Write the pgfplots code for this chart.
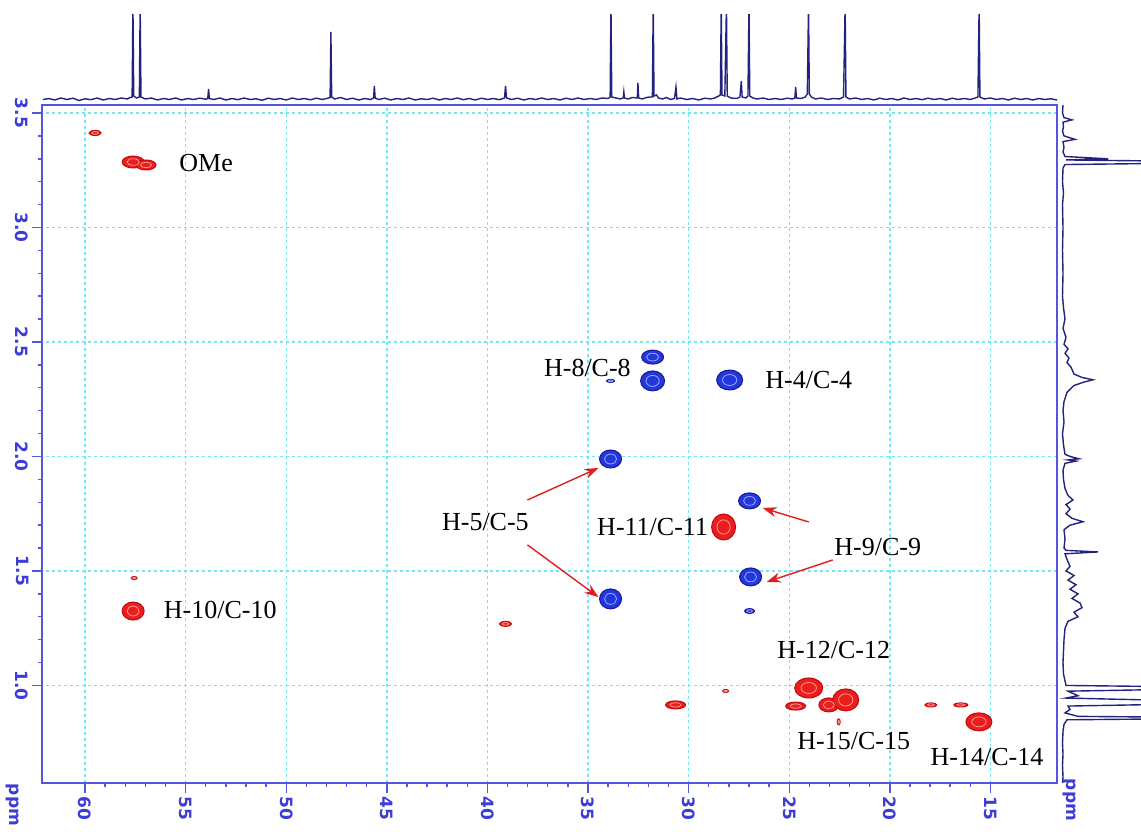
\documentclass[border=0pt]{standalone}
\usepackage{fontspec}
\setmainfont{Liberation Serif}
\newfontfamily\tickfont{DejaVu Sans}
\usepackage{pgfplots}
\usepackage{pgfplotstable}
\pgfplotsset{compat=1.18}
\usetikzlibrary{arrows.meta}

\definecolor{axisblue}{RGB}{85,85,225}
\definecolor{tickblue}{RGB}{60,60,215}
\definecolor{gridcyan}{RGB}{120,228,238}
\definecolor{specnavy}{RGB}{35,35,125}
\definecolor{pkred}{RGB}{235,30,30}
\definecolor{pkredd}{RGB}{195,10,10}
\definecolor{pkredl}{RGB}{255,150,150}
\definecolor{pkblue}{RGB}{35,55,220}
\definecolor{pkblued}{RGB}{25,25,150}
\definecolor{pkbluel}{RGB}{150,170,255}
\definecolor{arrred}{RGB}{225,30,30}

% cross peaks: ppm C, ppm H, half sizes (pt)
\pgfplotstableread{
x y w h
59.50 3.413 3 1.25
57.61 3.286 5.5 3
56.97 3.273 5 2.5
57.61 1.325 5.5 4.5
57.56 1.469 1.5 0.75
39.10 1.269 3 1.25
28.26 1.692 6 6.5
30.65 0.915 5 2
28.16 0.976 1.5 0.75
24.03 0.989 7 5
24.68 0.910 5 2
23.03 0.915 5 3.5
22.19 0.937 6.5 5.5
17.96 0.915 3 1
16.47 0.915 3.5 1
15.57 0.841 6.5 4.5
22.54 0.841 0.75 1.5
}\redpk

\pgfplotstableread{
x y w h
31.79 2.434 5.5 3.5
31.79 2.330 6 5
33.88 2.330 2 0.75
27.96 2.334 6.5 5
33.88 1.989 5.5 4.5
33.88 1.378 5.5 5
26.97 1.806 5.5 4
26.92 1.474 5.5 4.5
26.97 1.325 2.5 1.25
}\bluepk

\pgfplotsset{
  blobout/.style={only marks, scatter, mark=*, mark size=1pt,
    visualization depends on={\thisrow{w}\as\pkw},
    visualization depends on={\thisrow{h}\as\pkh},
    scatter/@pre marker code/.code={\scope[xscale=\pkw,yscale=\pkh]},
    scatter/@post marker code/.code={\endscope}},
  blobin/.style={only marks, scatter, mark=o, mark size=1pt,
    visualization depends on={\thisrow{w}\as\pkw},
    visualization depends on={\thisrow{h}\as\pkh},
    scatter/@pre marker code/.code={\scope[xscale=0.55*\pkw,yscale=0.55*\pkh]},
    scatter/@post marker code/.code={\endscope}},
}

\begin{document}
\begin{tikzpicture}

% main 2D panel
\begin{axis}[at={(21pt,24pt)}, anchor=south west,
  scale only axis, width=507.5pt, height=339pt,
  x dir=reverse, xmin=11.69, xmax=62.14, ymin=0.574, ymax=3.535,
  xtick={15,20,25,30,35,40,45,50,55,60},
  xticklabels={15,20,25,30,35,40,45,50,55,60},
  ytick={1,1.5,2,2.5,3,3.5},
  yticklabels={1.0,1.5,2.0,2.5,3.0,3.5},
  minor x tick num=4, minor y tick num=4,
  tick align=outside, tick pos=left,
  major tick length=5pt, minor tick length=2pt,
  axis line style={axisblue, line width=0.9pt},
  every tick/.style={axisblue, line width=0.7pt},
  grid=major, major grid style={gridcyan, dash pattern=on 1.5pt off 1.5pt, line width=0.7pt},
  tick label style={font=\tickfont\bfseries\fontsize{8.5}{10}\selectfont, text=tickblue},
  xticklabel style={rotate=-90, anchor=west, inner sep=1.5pt},
  yticklabel style={rotate=-90, anchor=north, inner sep=1.5pt},
]
\addplot[blobout, mark options={fill=pkred, draw=pkredd, line width=0.5pt}] table[x=x,y=y] {\redpk};
\addplot[blobin, mark options={draw=pkredl, line width=0.4pt}] table[x=x,y=y] {\redpk};
\addplot[blobout, mark options={fill=pkblue, draw=pkblued, line width=0.5pt}] table[x=x,y=y] {\bluepk};
\addplot[blobin, mark options={draw=pkbluel, line width=0.4pt}] table[x=x,y=y] {\bluepk};

\begin{scope}[every node/.style={font=\fontsize{13}{15}\selectfont, inner sep=0pt}]
\node at (axis cs:53.98,3.282) {OMe};
\node at (axis cs:35.03,2.386) {H-8/C-8};
\node at (axis cs:24.03,2.334) {H-4/C-4};
\node at (axis cs:40.10,1.714) {H-5/C-5};
\node at (axis cs:31.79,1.692) {H-11/C-11};
\node at (axis cs:20.60,1.605) {H-9/C-9};
\node at (axis cs:53.28,1.330) {H-10/C-10};
\node at (axis cs:22.79,1.155) {H-12/C-12};
\node at (axis cs:21.79,0.758) {H-15/C-15};
\node at (axis cs:15.17,0.688) {H-14/C-14};
\end{scope}

\begin{scope}[arrred, line width=0.7pt, -{Stealth[length=7pt,width=5pt]}]
\draw (axis cs:38.01,1.810) -- (axis cs:34.48,1.950);
\draw (axis cs:38.01,1.614) -- (axis cs:34.48,1.386);
\draw (axis cs:24.03,1.714) -- (axis cs:26.32,1.775);
\draw (axis cs:22.84,1.548) -- (axis cs:26.12,1.452);
\end{scope}
\end{axis}

% 13C projection on top
\begin{axis}[at={(21pt,363pt)}, anchor=south west, scale only axis,
  width=507.5pt, height=45pt, x dir=reverse, xmin=11.69, xmax=62.14,
  ymin=-5, ymax=85, hide axis, clip=true]
\addplot[specnavy, line width=0.7pt] coordinates {
(62.1,0.5)(61.8,1.5)(61.5,0)(61.2,2)(60.9,0.5)(60.6,1.8)(60.3,-0.5)(60.0,1.2)(59.7,0.3)(59.4,2)
(59.1,0)(58.8,1.5)(58.5,0.5)(58.2,2)(57.9,1)(57.75,2.5)(57.66,3)(57.62,95)(57.58,4)(57.45,2)
(57.30,3)(57.26,95)(57.22,3)(57.0,1)(56.7,2)(56.4,0)(56.1,1.5)(55.8,0.5)(55.5,2)(55.2,0)
(54.9,1.5)(54.6,0.5)(54.3,1.8)(54.0,0.8)(53.9,1.5)(53.86,11)(53.82,1.5)(53.6,0.5)(53.3,2)(53.0,0)
(52.7,1.5)(52.4,0.3)(52.1,2)(51.8,0.5)(51.5,1.2)(51.2,-0.3)(50.9,1.8)(50.6,0.5)(50.3,1.5)(50.0,0)
(49.7,2)(49.4,0.5)(49.1,1.5)(48.8,0.2)(48.5,1.8)(48.2,0.5)(47.9,2)(47.82,2.5)(47.78,68)(47.74,3)
(47.6,1)(47.3,2.5)(47.0,0.5)(46.7,1.8)(46.4,0)(46.1,1.5)(45.8,0.5)(45.66,2)(45.62,14)(45.58,2)
(45.4,0.5)(45.1,1.8)(44.8,0)(44.5,1.5)(44.2,0.5)(43.9,2)(43.6,0)(43.3,1.2)(43.0,0.5)(42.7,1.8)
(42.4,0)(42.1,1.5)(41.8,0.5)(41.5,2)(41.2,0.3)(40.9,1.5)(40.6,0)(40.3,1.8)(40.0,0.5)(39.7,1.5)
(39.4,0.3)(39.15,2)(39.10,14)(39.05,2)(38.8,0.5)(38.5,1.8)(38.2,0)(37.9,1.5)(37.6,0.5)(37.3,2)
(37.0,0.5)(36.7,1.5)(36.4,0)(36.1,1.8)(35.8,0.5)(35.5,2)(35.2,0.5)(34.9,1.5)(34.6,0.5)(34.3,2)
(34.0,1.5)(33.9,3)(33.86,95)(33.82,3)(33.6,2)(33.4,1)(33.25,2)(33.22,8)(33.19,2)(33.0,1)
(32.8,2.5)(32.55,2)(32.52,17)(32.48,2)(32.3,1)(32.1,2.5)(31.9,3)(31.8,3)(31.76,95)(31.72,4)
(31.6,5)(31.5,2)(31.3,1)(31.1,2.5)(30.9,0.5)(30.7,1.5)(30.63,13)(30.58,1)(30.4,2)(30.1,0.5)
(29.8,1.5)(29.5,0)(29.2,1.8)(28.9,1)(28.7,2)(28.5,4)(28.42,5)(28.38,95)(28.34,5)(28.20,4)
(28.12,95)(28.08,4)(27.9,2)(27.6,1.5)(27.45,3)(27.38,19)(27.34,3)(27.15,2)(27.05,4)(27.0,95)
(26.96,4)(26.8,2)(26.6,1)(26.3,2)(26.0,0.5)(25.7,1.5)(25.4,0.5)(25.1,1.8)(24.85,1)(24.72,2)
(24.68,13)(24.64,2)(24.4,1.5)(24.2,3)(24.1,6)(24.04,95)(24.0,6)(23.9,3)(23.7,1)(23.4,2)
(23.1,0.5)(22.8,1.5)(22.5,1)(22.3,3)(22.22,95)(22.18,3)(22.0,1)(21.7,2)(21.4,0.5)(21.1,1.5)
(20.8,0)(20.5,1.8)(20.2,0.5)(19.9,1.5)(19.6,0)(19.3,2)(19.0,0.5)(18.7,1.5)(18.4,0.3)(18.1,1.8)
(17.8,0.5)(17.5,1.5)(17.2,0)(16.9,1.8)(16.6,0.5)(16.3,1.5)(16.0,0.5)(15.75,2)(15.62,3)(15.56,95)
(15.52,3)(15.3,1)(15.0,2)(14.7,0.5)(14.4,1.5)(14.1,0)(13.8,1.8)(13.5,0.5)(13.2,1.5)(12.9,0)
(12.6,1.5)(12.3,0.5)(12.0,1.2)(11.69,0)
};
\end{axis}

% 1H projection on the right
\begin{axis}[at={(528.5pt,24pt)}, anchor=south west, scale only axis,
  width=42pt, height=339pt, xmin=-5, xmax=79, ymin=0.574, ymax=3.535,
  hide axis, clip=true]
\addplot[specnavy, line width=0.7pt] coordinates {
(1,3.535)(0.5,3.50)(2,3.48)(10,3.47)(1,3.46)(1.5,3.44)(0.5,3.42)(2,3.40)(13,3.385)(1,3.375)
(2,3.35)(1,3.33)(3,3.31)(46,3.30)(4,3.295)(200,3.285)(3,3.275)(1,3.26)(0.5,3.2)(1.5,3.15)
(0.5,3.1)(1,3.0)(0.5,2.9)(1,2.8)(0.5,2.7)(1.5,2.65)(3,2.60)(1,2.56)(4,2.52)(2,2.49)
(6,2.47)(3,2.45)(7,2.43)(5,2.41)(9,2.39)(12,2.36)(20,2.345)(31,2.335)(22,2.325)(12,2.31)
(5,2.28)(2,2.24)(1,2.20)(2,2.15)(0.5,2.10)(1.5,2.05)(3,2.01)(8,2.00)(17,1.99)(6,1.985)
(14,1.98)(3,1.97)(1,1.94)(1.5,1.90)(3,1.86)(6,1.83)(11,1.81)(4,1.79)(8,1.77)(4,1.75)
(10,1.73)(21,1.715)(8,1.70)(2,1.68)(3,1.64)(2,1.60)(4,1.59)(36,1.583)(3,1.575)(5,1.55)
(8,1.52)(4,1.50)(12,1.48)(6,1.46)(14,1.44)(8,1.42)(16,1.40)(10,1.38)(18,1.36)(20,1.34)
(12,1.32)(16,1.30)(6,1.28)(3,1.25)(2,1.2)(1.5,1.15)(1,1.10)(1.5,1.05)(4,1.00)(200,0.99)
(6,0.975)(16,0.955)(4,0.945)(200,0.925)(6,0.91)(8,0.895)(3,0.88)(16,0.865)(200,0.858)(5,0.85)
(2,0.83)(1,0.80)(0.5,0.75)(1,0.7)(0.5,0.65)(1,0.60)(0.5,0.574)
};
\end{axis}

\node[rotate=-90, font=\tickfont\bfseries\fontsize{8.5}{10}\selectfont, text=tickblue] at (6pt,13pt) {ppm};
\node[rotate=-90, font=\tickfont\bfseries\fontsize{8.5}{10}\selectfont, text=tickblue] at (534.5pt,15.5pt) {ppm};

\pgfresetboundingbox
\useasboundingbox (0,0) rectangle (570.5pt,415.5pt);
\end{tikzpicture}
\end{document}
